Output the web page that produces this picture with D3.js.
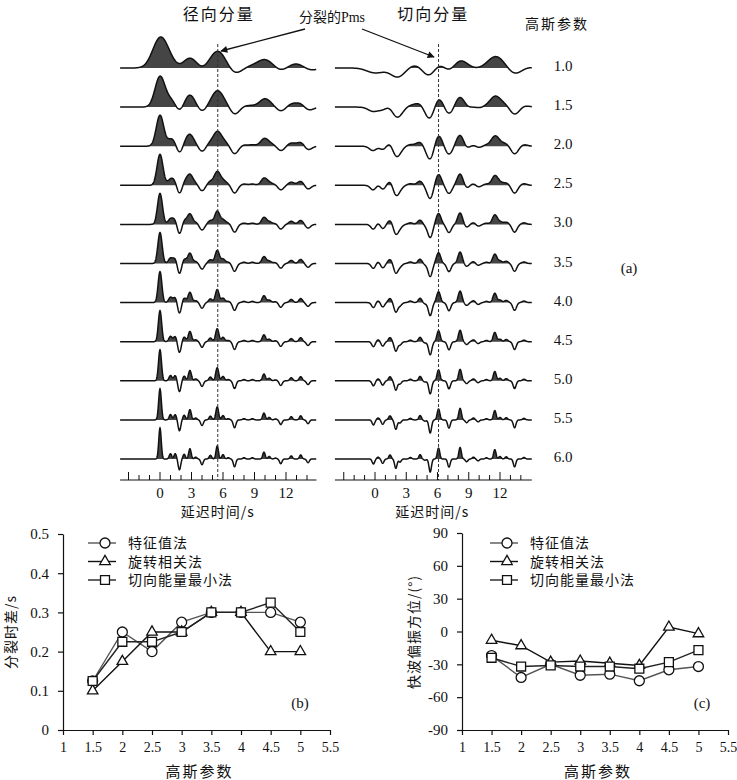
<!DOCTYPE html>
<html>
<head>
<meta charset="utf-8">
<script src="https://cdn.jsdelivr.net/npm/d3@7"></script>
<style>
body { margin: 0; background: #fff; }
text { font-family: "Liberation Serif", "DejaVu Serif", serif; fill: #111; }
.zh { font-family: "Noto Sans CJK SC", sans-serif; }
</style>
</head>
<body>
<svg id="fig" width="737" height="780"></svg>
<script>
// gaussian parameters of the traces in (a)
const gaussParams = [1.0, 1.5, 2.0, 2.5, 3.0, 3.5, 4.0, 4.5, 5.0, 5.5, 6.0];

// spike trains, filtered with each gaussian parameter
const radialTimes = [0, 1.0, 1.45, 1.85, 2.3, 2.85, 3.4, 4.0, 4.8, 5.45, 6.0, 6.5, 7.1, 8.0, 8.8, 9.9, 10.4, 11.0, 11.5, 12.5, 13.4, 14.1];
const radialAmps  = [1.0, 0.17, 0.17, -0.35, 0.15, 0.33, 0.06, -0.18, 0.12, 0.42, 0.14, 0.04, -0.25, 0.04, 0.04, 0.22, 0.08, 0.03, -0.15, 0.1, 0.13, -0.12];
const tangTimes = [-0.15, 0.3, 0.74, 1.44, 2.0, 2.4, 3.4, 4.33, 4.8, 5.3, 6.1, 7.1, 8.17, 8.8, 9.45, 9.9, 10.7, 11.5, 12.0, 12.6, 13.4, 14.3];
const tangAmps  = [-0.16, 0.06, -0.14, 0.13, -0.3, -0.1, 0.05, 0.14, -0.04, -0.42, 0.35, -0.26, 0.37, -0.09, 0.06, -0.06, 0.04, 0.3, 0.08, 0.07, -0.25, 0.05];
const pmsRadial = 5.5;
const pmsTang = 6.1;
const delayTicks = [0, 3, 6, 9, 12];

// (b) and (c)
const gaussX = [1.5, 2, 2.5, 3, 3.5, 4, 4.5, 5];
const xTicks = [1, 1.5, 2, 2.5, 3, 3.5, 4, 4.5, 5, 5.5];
const methodNames = ["特征值法", "旋转相关法", "切向能量最小法"];
const splitEigen = [0.125, 0.25, 0.2, 0.275, 0.3, 0.3, 0.3, 0.275];
const splitRot   = [0.1, 0.175, 0.25, 0.25, 0.3, 0.3, 0.2, 0.2];
const splitTang  = [0.125, 0.225, 0.225, 0.25, 0.3, 0.3, 0.325, 0.25];
const splitTicks = [0, 0.1, 0.2, 0.3, 0.4, 0.5];
const phiEigen = [-22, -42, -30, -40, -39, -45, -35, -32];
const phiRot   = [-8, -13, -28, -27, -29, -31, 4, -2];
const phiTang  = [-24, -32, -31, -32, -32, -34, -28, -17];
const phiTicks = [-90, -60, -30, 0, 30, 60, 90];

const svg = d3.select("#fig");

svg.append("defs").append("marker")
  .attr("id", "arrow").attr("viewBox", "0 0 10 10")
  .attr("refX", 9).attr("refY", 5)
  .attr("markerWidth", 9).attr("markerHeight", 7)
  .attr("markerUnits", "userSpaceOnUse")
  .attr("orient", "auto")
  .append("path").attr("d", "M0,0L10,5L0,10z").attr("fill", "#111");

// ---------- (a) ----------
const traceY = d3.scalePoint().domain(gaussParams).range([68, 459]);
const ampPx = 31;

function pulses(times, amps, a, t) {
  let s = 0;
  for (let k = 0; k < times.length; k++) {
    const d = a * (t - times[k]);
    s += amps[k] * Math.exp(-d * d);
  }
  return s;
}

const comps = [
  { title: "径向分量", times: radialTimes, amps: radialAmps, pms: pmsRadial,
    x: d3.scaleLinear().domain([0, 12]).range([160, 286]), t0: -3.8, t1: 14.9 },
  { title: "切向分量", times: tangTimes, amps: tangAmps, pms: pmsTang,
    x: d3.scaleLinear().domain([0, 12]).range([375, 500]), t0: -3.85, t1: 15.05 }
];

gaussParams.forEach(a => {
  const base = traceY(a);
  const grid0 = d3.range(comps[0].t0, comps[0].t1, 0.02);
  const norm = d3.max(grid0, t => Math.abs(pulses(radialTimes, radialAmps, a, t)));
  const y = d3.scaleLinear().domain([-1, 1]).range([base + ampPx, base - ampPx]);

  comps.forEach(c => {
    const pts = d3.range(c.t0, c.t1, 0.02).map(t => ({ t: t, v: pulses(c.times, c.amps, a, t) / norm }));
    svg.append("path").datum(pts)
      .attr("fill", "#454545")
      .attr("d", d3.area().x(d => c.x(d.t)).y0(base).y1(d => y(Math.max(0, d.v))));
    svg.append("path").datum(pts)
      .attr("fill", "none").attr("stroke", "#111").attr("stroke-width", 1.5)
      .attr("d", d3.line().x(d => c.x(d.t)).y(d => y(d.v)));
  });

  svg.append("text").attr("x", 563).attr("y", base + 3)
    .attr("text-anchor", "middle").attr("font-size", 15)
    .text(d3.format(".1f")(a));
});

comps.forEach(c => {
  const axisY = 480;
  svg.append("line")
    .attr("x1", c.x(c.pms)).attr("x2", c.x(c.pms))
    .attr("y1", 44).attr("y2", axisY)
    .attr("stroke", "#333").attr("stroke-width", 1).attr("stroke-dasharray", "3,2");
  svg.append("line")
    .attr("x1", c.x(c.t0)).attr("x2", c.x(c.t1))
    .attr("y1", axisY).attr("y2", axisY)
    .attr("stroke", "#111").attr("stroke-width", 1.2);
  svg.selectAll(null).data(d3.range(-3, 15)).enter().append("line")
    .attr("x1", d => c.x(d)).attr("x2", d => c.x(d))
    .attr("y1", axisY).attr("y2", d => d % 3 === 0 ? axisY - 8 : axisY - 5)
    .attr("stroke", "#111").attr("stroke-width", 1);
  svg.selectAll(null).data(delayTicks).enter().append("text")
    .attr("x", d => c.x(d)).attr("y", 498)
    .attr("text-anchor", "middle").attr("font-size", 15)
    .text(d => d);
  svg.append("text").attr("class", "zh")
    .attr("x", c.x(5.5)).attr("y", 517)
    .attr("text-anchor", "middle").attr("font-size", 14).attr("letter-spacing", 1)
    .text("延迟时间/s");
  svg.append("text").attr("class", "zh")
    .attr("x", c.x(5.6)).attr("y", 20)
    .attr("text-anchor", "middle").attr("font-size", 16).attr("letter-spacing", 2)
    .text(c.title);
});

svg.append("text").attr("class", "zh")
  .attr("x", 557).attr("y", 29)
  .attr("text-anchor", "middle").attr("font-size", 14).attr("letter-spacing", 2)
  .text("高斯参数");

const pmsLabel = svg.append("text").attr("x", 332).attr("y", 22)
  .attr("text-anchor", "middle").attr("font-size", 14);
pmsLabel.append("tspan").attr("class", "zh").text("分裂的");
pmsLabel.append("tspan").text("Pms");

svg.append("line").attr("x1", 305).attr("y1", 29).attr("x2", 221).attr("y2", 51)
  .attr("stroke", "#111").attr("stroke-width", 1.3).attr("marker-end", "url(#arrow)");
svg.append("line").attr("x1", 362).attr("y1", 29).attr("x2", 434).attr("y2", 57)
  .attr("stroke", "#111").attr("stroke-width", 1.3).attr("marker-end", "url(#arrow)");

svg.append("text").attr("x", 629).attr("y", 273)
  .attr("text-anchor", "middle").attr("font-size", 15).text("(a)");

// ---------- (b), (c) ----------
const symbols = [d3.symbolCircle, d3.symbolTriangle, d3.symbolSquare];
const symSizes = [78, 48, 80];
const lineColors = ["#555", "#111", "#222"];

function drawPanel(p) {
  const x = d3.scaleLinear().domain([1, 5.5]).range([p.left, p.right]);
  const y = d3.scaleLinear().domain(p.yDomain).range([730, p.top]);
  const g = svg.append("g");

  g.append("g").attr("transform", "translate(0,730)")
    .call(d3.axisBottom(x).tickValues(xTicks).tickSize(5).tickSizeOuter(0).tickPadding(7)
      .tickFormat(d => String(d)))
    .call(s => s.selectAll("text").attr("font-size", 14).attr("font-family", "Liberation Serif"));
  g.append("g").attr("transform", "translate(" + p.left + ",0)")
    .call(d3.axisLeft(y).tickValues(p.yTicks).tickSize(5).tickSizeOuter(0).tickPadding(9)
      .tickFormat(d => String(d)))
    .call(s => s.selectAll("text").attr("font-size", 15).attr("font-family", "Liberation Serif"));
  g.selectAll(".domain, .tick line").attr("stroke", "#111").attr("stroke-width", 1.2);

  p.series.forEach((vals, i) => {
    const pts = gaussX.map((gx, j) => [gx, vals[j]]);
    g.append("path").datum(pts)
      .attr("fill", "none").attr("stroke", lineColors[i]).attr("stroke-width", 1.4)
      .attr("d", d3.line().x(d => x(d[0])).y(d => y(d[1])));
    g.selectAll(null).data(pts).enter().append("path")
      .attr("transform", d => "translate(" + x(d[0]) + "," + y(d[1]) + ")")
      .attr("d", d3.symbol(symbols[i], symSizes[i]))
      .attr("fill", "#fff").attr("stroke", "#111").attr("stroke-width", 1.3);
  });

  methodNames.forEach((name, i) => {
    const ly = 543 + i * 18.5;
    g.append("line").attr("x1", p.legX).attr("x2", p.legX + 28)
      .attr("y1", ly).attr("y2", ly).attr("stroke", lineColors[i]).attr("stroke-width", 1.4);
    g.append("path").attr("transform", "translate(" + (p.legX + 17) + "," + ly + ")")
      .attr("d", d3.symbol(symbols[i], symSizes[i]))
      .attr("fill", "#fff").attr("stroke", "#111").attr("stroke-width", 1.3);
    g.append("text").attr("class", "zh")
      .attr("x", p.legX + 40).attr("y", ly + 5)
      .attr("font-size", 14).attr("letter-spacing", 1).text(name);
  });

  g.append("text").attr("class", "zh")
    .attr("x", x(3.3)).attr("y", 777)
    .attr("text-anchor", "middle").attr("font-size", 15).attr("letter-spacing", 2)
    .text("高斯参数");
  g.append("text").attr("class", "zh")
    .attr("transform", "translate(" + p.yLabX + ",632) rotate(-90)")
    .attr("text-anchor", "middle").attr("font-size", 14).attr("letter-spacing", 1)
    .text(p.yLabel);
  g.append("text").attr("x", p.tagX).attr("y", 708)
    .attr("text-anchor", "middle").attr("font-size", 15).text(p.tag);
}

drawPanel({ left: 63, right: 330, top: 534, yDomain: [0, 0.5], yTicks: splitTicks,
  series: [splitEigen, splitRot, splitTang], legX: 88, yLabX: 16, yLabel: "分裂时差/s",
  tagX: 300, tag: "(b)" });
drawPanel({ left: 462, right: 728, top: 533, yDomain: [-90, 90], yTicks: phiTicks,
  series: [phiEigen, phiRot, phiTang], legX: 490, yLabX: 419, yLabel: "快波偏振方位/(°)",
  tagX: 702, tag: "(c)" });
</script>
</body>
</html>
